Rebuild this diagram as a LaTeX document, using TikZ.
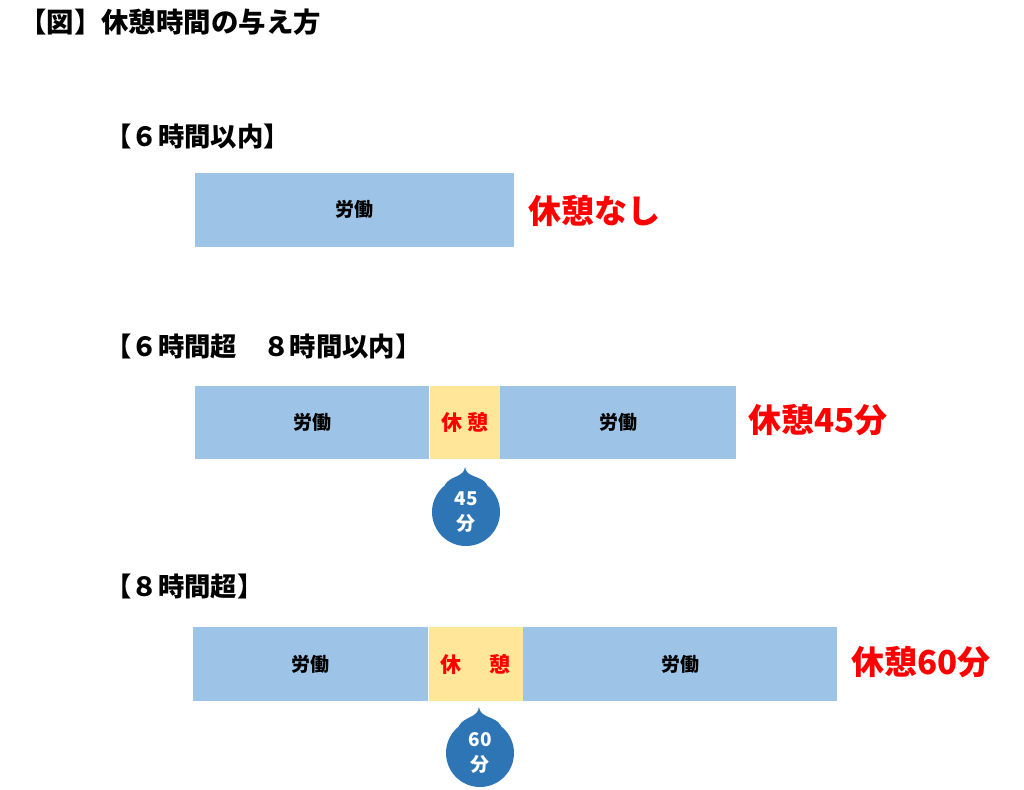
\documentclass[tikz,border=0pt]{standalone}
\usepackage{fontspec}
\setmainfont{Noto Sans CJK JP}
\usepackage{tikz}
\usetikzlibrary{positioning,backgrounds}
\definecolor{workblue}{HTML}{9DC3E6}
\definecolor{restyellow}{HTML}{FFE699}
\definecolor{dropblue}{HTML}{2E75B6}
\definecolor{restred}{HTML}{FF0000}

\begin{document}
\begin{tikzpicture}[x=0.02cm, y=-0.02cm, font=\bfseries,
	work/.style={fill=workblue, inner sep=0pt, font=\fontsize{10.8}{12}\bfseries},
	rest/.style={fill=restyellow, inner sep=0pt, text=restred, font=\fontsize{12}{14}\bfseries},
	total/.style={anchor=west, inner sep=0pt, text=restred, font=\fontsize{18.8}{22}\bfseries},
	case/.style={anchor=west, inner sep=0pt, font=\fontsize{15}{17}\bfseries},
	drop/.style={circle, fill=dropblue, minimum size=1.36cm, inner sep=0pt, text=white, align=center, font=\fontsize{10.8}{14.5}\bfseries}]
\useasboundingbox (0,0) rectangle (1024,789);
\node[anchor=west, inner sep=0pt, font=\fontsize{15.6}{19}\bfseries] (title) at (19,22) {【図】休憩時間の与え方};

% 6 hours or less
\node[case] (c1) at (105,136) {【６時間以内】};
\node[work, minimum width=6.38cm, minimum height=1.48cm] (w1) at (354.5,209.5) {労働};
\node[total] (t1) at (528,211) {休憩なし};

% over 6 hours, up to 8 hours
\node[case] (c2) at (105,346) {【６時間超　８時間以内】};
\node[work, minimum width=4.68cm, minimum height=1.46cm] (w2a) at (312,422.5) {労働};
\node[rest, minimum width=1.4cm, minimum height=1.46cm, right=0pt of w2a] (r2) {休 憩};
\node[work, minimum width=4.72cm, minimum height=1.46cm, right=0pt of r2] (w2b) {労働};
\node[total] (t2) at (748,420) {休憩45分};
\node[drop] (d2) at (466,512) {45\\分};
\coordinate (d2tip) at (465,467);
\begin{scope}[on background layer]
\fill[dropblue] (d2.128) to[out=62,in=-95] (d2tip) to[out=-85,in=118] (d2.52) -- (d2.center) -- cycle;
\end{scope}

% over 8 hours
\node[case] (c3) at (105,586) {【８時間超】};
\node[work, minimum width=4.70cm, minimum height=1.48cm] (w3a) at (310.5,664) {労働};
\node[rest, minimum width=1.88cm, minimum height=1.48cm, right=0pt of w3a] (r3) {休\hspace{1.3em}憩};
\node[work, minimum width=6.28cm, minimum height=1.48cm, right=0pt of r3] (w3b) {労働};
\node[total] (t3) at (851,662) {休憩60分};
\node[drop] (d3) at (480,753) {60\\分};
\coordinate (d3tip) at (479,707);
\begin{scope}[on background layer]
\fill[dropblue] (d3.128) to[out=62,in=-95] (d3tip) to[out=-85,in=118] (d3.52) -- (d3.center) -- cycle;
\end{scope}
\end{tikzpicture}
\end{document}
